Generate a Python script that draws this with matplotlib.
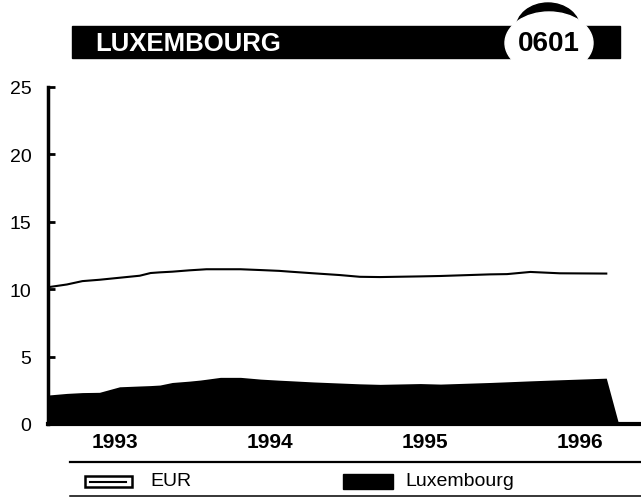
import numpy as np
import matplotlib
matplotlib.use("Agg")
import matplotlib.pyplot as plt
from matplotlib.patches import Rectangle, Ellipse

plt.rcParams['font.family'] = ['Liberation Sans', 'DejaVu Sans']

# data (decimal years, percent)
years = [1992.57, 1992.69, 1992.79, 1992.90, 1993.03, 1993.16, 1993.23, 1993.29,
         1993.37, 1993.48, 1993.55, 1993.59, 1993.68, 1993.81, 1993.94, 1994.06,
         1994.13, 1994.28, 1994.45, 1994.58, 1994.71, 1994.97, 1995.10, 1995.42,
         1995.53, 1995.68, 1995.87, 1996.17]
eur = [10.15, 10.35, 10.6, 10.7, 10.85, 11.0, 11.2, 11.25,
       11.3, 11.4, 11.45, 11.48, 11.48, 11.48, 11.42, 11.36,
       11.3, 11.18, 11.05, 10.92, 10.9, 10.95, 10.98, 11.1,
       11.12, 11.28, 11.18, 11.16]
lux = [2.15, 2.27, 2.33, 2.35, 2.76, 2.82, 2.85, 2.89,
       3.08, 3.18, 3.26, 3.32, 3.46, 3.46, 3.33, 3.25,
       3.21, 3.12, 3.04, 2.98, 2.94, 3.0, 2.96, 3.08,
       3.13, 3.2, 3.28, 3.4]
lux_end = 1996.25
year_ticks = [1993, 1994, 1995, 1996]
y_ticks = [0, 5, 10, 15, 20, 25]
title = "LUXEMBOURG"
code = "0601"
series_names = ["EUR", "Luxembourg"]

W, H = 641, 502
fig = plt.figure(figsize=(W / 100, H / 100), dpi=100)

# overlay in pixel coords for header + legend
ov = fig.add_axes([0, 0, 1, 1])
ov.set_xlim(0, W)
ov.set_ylim(H, 0)
ov.axis("off")

# header bar
ov.add_patch(Rectangle((72, 27), 548, 32, color="black"))
ov.add_patch(Ellipse((548, 30), 64, 52, color="black"))
ov.add_patch(Ellipse((549, 44), 88, 62, color="white"))
ov.text(95, 44, title, color="white", fontsize=18.5, fontweight="bold", va="center", ha="left")
ov.text(549, 44, code, color="black", fontsize=20, fontweight="bold", va="center", ha="center")

# legend
ov.plot([70, W], [463, 463], color="black", lw=1.6)
ov.plot([70, W], [497, 497], color="black", lw=1.1)
ov.add_patch(Rectangle((85, 477), 47, 11, facecolor="white", edgecolor="black", lw=1.8))
ov.plot([90, 126], [482.5, 482.5], color="black", lw=1.5)
ov.text(150, 482, series_names[0], fontsize=14, va="center", ha="left")
ov.add_patch(Rectangle((343, 475), 50, 15, color="black"))
ov.text(405, 482, series_names[1], fontsize=14, va="center", ha="left")

# main plot
ax = fig.add_axes([48 / W, (H - 425) / H, 1 - 48 / W, (425 - 88) / H])
ax.patch.set_alpha(0)
ax.fill_between(years + [lux_end], lux + [0], 0, color="black", lw=0)
ax.plot(years, eur, color="black", lw=1.5)

ax.set_xlim(1992.568, 1996.394)
ax.set_ylim(0, 25)
ax.set_yticks(y_ticks)
ax.set_xticks(year_ticks)
ax.set_xticklabels([str(y) for y in year_ticks], fontweight="bold", fontsize=15)
ax.tick_params(axis="x", length=0, pad=6)
ax.tick_params(axis="y", direction="in", length=5, width=2, labelsize=14, pad=12)
for s in ["top", "right"]:
    ax.spines[s].set_visible(False)
ax.spines["left"].set_linewidth(2.5)
ax.spines["bottom"].set_linewidth(3)

fig.savefig("out.png", dpi=100)
